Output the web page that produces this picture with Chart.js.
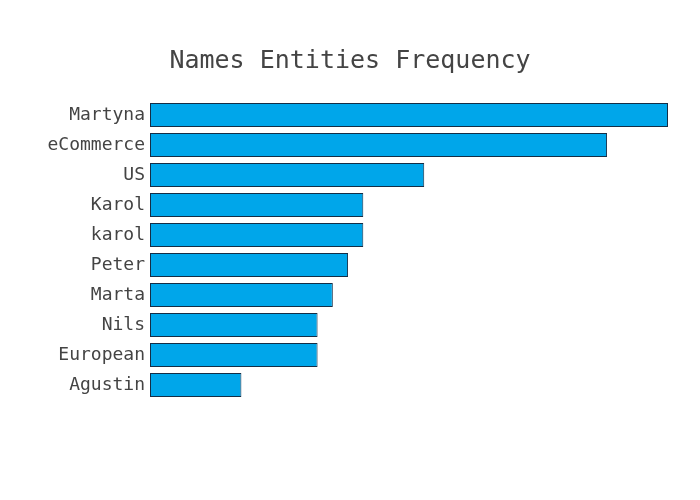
<!DOCTYPE html>
<html>
<head>
<meta charset="utf-8">
<script src="https://cdn.jsdelivr.net/npm/chart.js@4"></script>
<style>
  html, body { margin: 0; padding: 0; background: #fff; }
  #wrap { width: 700px; height: 500px; }
</style>
</head>
<body>
<div id="wrap"><canvas id="namesChart"></canvas></div>
<script>
var names = ['Martyna', 'eCommerce', 'US', 'Karol', 'karol', 'Peter', 'Marta', 'Nils', 'European', 'Agustin'];
var counts = [34, 30, 18, 14, 14, 13, 12, 11, 11, 6];
var chartTitle = 'Names Entities Frequency';

(function () {
    var ctx = document.getElementById('namesChart').getContext('2d');
    var namesChart = new Chart(ctx, {
        type: 'bar',
        data: {
            labels: names,
            datasets: [{
                data: counts,
                label: 'Frequency',
                backgroundColor: 'rgb(0,166,234)',
                borderColor: 'rgb(20,45,70)',
                borderWidth: 1,
                borderSkipped: false,
                categoryPercentage: 0.8,
                barPercentage: 1.0
            }]
        },
        options: {
            indexAxis: 'y',
            responsive: true,
            maintainAspectRatio: false,
            animation: false,
            layout: { padding: { top: 36, right: 32, bottom: 100, left: 32 } },
            plugins: {
                legend: { display: false },
                tooltip: { enabled: false },
                title: {
                    display: true,
                    text: chartTitle,
                    color: '#444',
                    font: { family: 'DejaVu Sans Mono', size: 25, weight: 'normal' },
                    padding: { top: 10, bottom: 24 }
                }
            },
            scales: {
                x: {
                    min: 0,
                    max: 34,
                    display: false
                },
                y: {
                    grid: { display: false, drawTicks: false },
                    border: { display: false },
                    afterFit: function (scale) { scale.width = 118; },
                    ticks: {
                        color: '#444',
                        padding: 5,
                        font: { family: 'DejaVu Sans Mono', size: 18 }
                    }
                }
            }
        }
    });
})();
</script>
</body>
</html>
